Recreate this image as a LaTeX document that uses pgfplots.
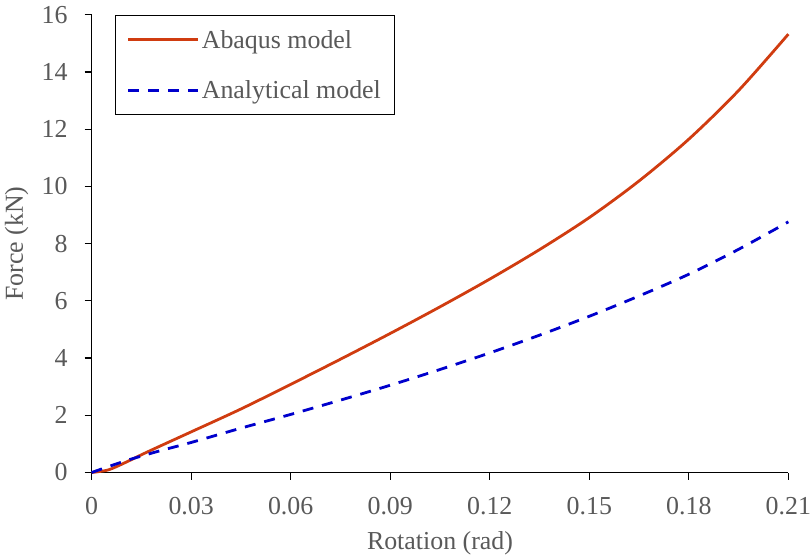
\documentclass[border=0pt]{standalone}
\usepackage{pgfplots}
\pgfplotsset{compat=1.18}
\usepackage{fontspec}
\setmainfont{Liberation Serif}
\definecolor{abq}{RGB}{208,60,16}
\definecolor{ana}{RGB}{0,0,204}
\definecolor{txt}{RGB}{89,89,89}
\newcommand\ff{\fontsize{26}{30}\selectfont}
\begin{document}%
\begin{tikzpicture}[font=\ff]
\begin{axis}[
  scale only axis,
  width=697bp, height=458bp,
  xmin=0, xmax=0.21, ymin=0, ymax=16,
  axis lines=left,
  axis line style={black, line width=1.3pt, -},
  xtick={0,0.03,0.06,0.09,0.12,0.15,0.18,0.21},
  xticklabels={0,0.03,0.06,0.09,0.12,0.15,0.18,0.21},
  ytick={0,2,4,6,8,10,12,14,16},
  tick align=outside,
  major tick length=7bp,
  tick style={black, line width=1.3pt},
  /pgf/number format/assume math mode=true,
  ticklabel style={font=\ff, text=txt},
  xticklabel style={anchor=north, inner sep=0pt, yshift=-18bp},
  yticklabel style={anchor=east, inner xsep=0pt, inner ysep=6bp, xshift=-17bp},
  xlabel={Rotation (rad)}, ylabel={Force (kN)},
  every axis x label/.style={at={(axis description cs:0.5,0)}, anchor=base,
    inner sep=0pt, yshift=-77bp, font=\ff, text=txt},
  every axis y label/.style={at={([xshift=-58bp]axis description cs:0,0.5)}, rotate=90, anchor=south,
    inner xsep=0pt, inner ysep=5bp, font=\ff, text=txt},
  legend style={at={(0.033,1)}, anchor=north west, draw=black, line width=1pt,
    font=\ff, text=txt, inner xsep=12pt, inner ysep=13pt,
    row sep=27pt},
  legend cell align=left,
  legend image code/.code={\draw[#1, line width=2.8bp] (0bp,0bp) -- (70bp,0bp);},
  clip=false,
]
\addplot[abq, line width=2.8bp, smooth] coordinates {
(0,0) (0.005,0.09) (0.01,0.34) (0.015,0.62) (0.02,0.89) (0.03,1.42) (0.045,2.22) (0.06,3.08)
(0.075,3.96) (0.09,4.86) (0.105,5.79) (0.12,6.76) (0.135,7.79) (0.15,8.91) (0.165,10.19)
(0.18,11.65) (0.195,13.35) (0.21,15.32)};
\addlegendentry{Abaqus model}
\addplot[ana, line width=2.8bp, dash pattern=on 11bp off 9bp, smooth] coordinates {
(0,0) (0.01,0.4) (0.02,0.74) (0.03,1.05) (0.045,1.55) (0.06,2.03) (0.075,2.53) (0.09,3.05)
(0.105,3.6) (0.12,4.18) (0.135,4.8) (0.15,5.46) (0.165,6.17) (0.18,6.93) (0.195,7.8) (0.21,8.76)};
\addlegendentry{Analytical model}
\end{axis}
\end{tikzpicture}%
\end{document}
